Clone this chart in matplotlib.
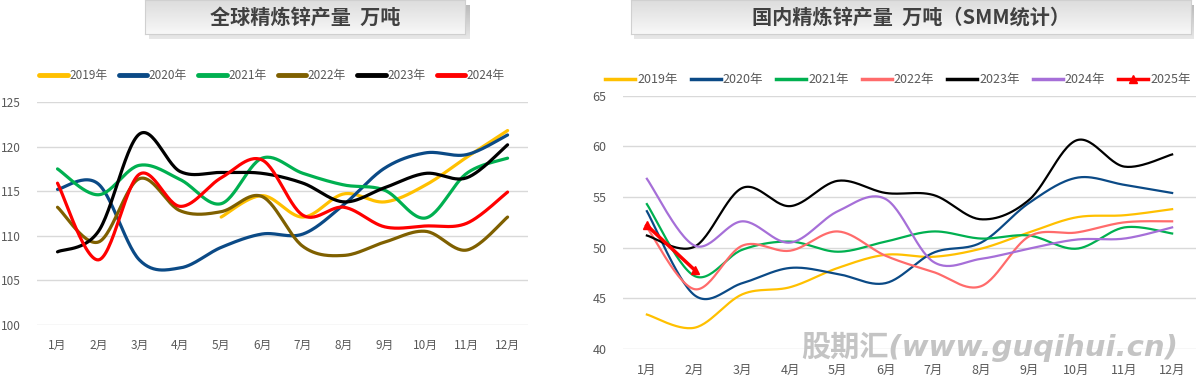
import numpy as np
import matplotlib
matplotlib.use('Agg')
from matplotlib import pyplot as plt

plt.rcParams['font.family'] = ['Noto Sans CJK SC', 'DejaVu Sans']

months = ['%d月' % i for i in range(1, 13)]
nan = np.nan

# 全球精炼锌产量 万吨
g_years = ['2019年', '2020年', '2021年', '2022年', '2023年', '2024年']
g_2019 = [nan, nan, nan, nan, 112.1, 114.5, 112.1, 114.7, 113.8, 115.7, 118.8, 121.8]
g_2020 = [115.2, 115.8, 107.3, 106.4, 108.7, 110.2, 110.2, 113.5, 117.6, 119.3, 119.1, 121.3]
g_2021 = [117.5, 114.6, 117.9, 116.3, 113.6, 118.7, 117.0, 115.7, 115.1, 112.0, 117.0, 118.7]
g_2022 = [113.2, 109.3, 116.4, 112.8, 112.7, 114.4, 108.8, 107.8, 109.3, 110.5, 108.4, 112.1]
g_2023 = [108.2, 110.5, 121.4, 117.2, 117.1, 117.0, 115.9, 113.8, 115.4, 117.0, 116.5, 120.2]
g_2024 = [115.9, 107.3, 116.9, 113.3, 116.5, 118.5, 112.3, 113.2, 111.0, 111.1, 111.4, 114.9]
g_series = [g_2019, g_2020, g_2021, g_2022, g_2023, g_2024]
g_colors = ['#ffc000', '#0b4a86', '#00b050', '#7f6000', '#000000', '#ff0000']

# 国内精炼锌产量 万吨（SMM统计）
d_years = ['2019年', '2020年', '2021年', '2022年', '2023年', '2024年', '2025年']
d_2019 = [43.4, 42.1, 45.4, 46.1, 48.0, 49.3, 49.1, 49.9, 51.5, 53.0, 53.2, 53.8]
d_2020 = [53.6, 45.3, 46.5, 48.0, 47.4, 46.5, 49.5, 50.5, 54.4, 56.9, 56.2, 55.4]
d_2021 = [54.3, 47.2, 49.8, 50.6, 49.6, 50.6, 51.6, 50.9, 51.2, 49.9, 52.0, 51.4]
d_2022 = [52.0, 45.9, 50.2, 49.7, 51.6, 49.2, 47.6, 46.2, 51.1, 51.5, 52.5, 52.6]
d_2023 = [51.2, 50.1, 55.9, 54.1, 56.6, 55.4, 55.2, 52.8, 54.7, 60.6, 58.0, 59.2]
d_2024 = [56.8, 50.2, 52.6, 50.5, 53.6, 54.8, 48.6, 48.9, 49.9, 50.8, 50.9, 52.0]
d_2025 = [52.2, 47.8]
d_series = [d_2019, d_2020, d_2021, d_2022, d_2023, d_2024]
d_colors = ['#ffc000', '#0b4a86', '#00b050', '#ff6b6b', '#000000', '#a66fd8', '#ff0000']


def smooth(xs, ys, n=30):
    # catmull-rom like excel smoothed line
    xs = np.asarray(xs, float)
    ys = np.asarray(ys, float)
    ok = ~np.isnan(ys)
    xs, ys = xs[ok], ys[ok]
    px = np.concatenate([[xs[0]], xs, [xs[-1]]])
    py = np.concatenate([[ys[0]], ys, [ys[-1]]])
    outx, outy = [], []
    t = np.linspace(0, 1, n)
    for i in range(1, len(px) - 2):
        x0, x1, x2, x3 = px[i - 1:i + 3]
        y0, y1, y2, y3 = py[i - 1:i + 3]
        c1x, c1y = x1 + (x2 - x0) / 6, y1 + (y2 - y0) / 6
        c2x, c2y = x2 - (x3 - x1) / 6, y2 - (y3 - y1) / 6
        bx = (1-t)**3*x1 + 3*(1-t)**2*t*c1x + 3*(1-t)*t**2*c2x + t**3*x2
        by = (1-t)**3*y1 + 3*(1-t)**2*t*c1y + 3*(1-t)*t**2*c2y + t**3*y2
        outx.extend(bx)
        outy.extend(by)
    return outx, outy


def title_box(fig, rect, text):
    tax = fig.add_axes([rect[0] + 0.003, rect[1] - 0.012, rect[2], rect[3]])
    tax.axis('off')
    tax.imshow(np.linspace(0.55, 0.85, 50).reshape(-1, 1), cmap='gray', vmin=0, vmax=1,
               aspect='auto', extent=[0, 1, 0, 1], alpha=0.6)
    bax = fig.add_axes(rect)
    bax.set_xticks([])
    bax.set_yticks([])
    for s in bax.spines.values():
        s.set_color('#d0d0d0')
    bax.imshow(np.linspace(0.97, 0.86, 50).reshape(-1, 1)[::-1], cmap='gray', vmin=0, vmax=1,
               aspect='auto', extent=[0, 1, 0, 1])
    bax.text(0.5, 0.5, text, ha='center', va='center', fontsize=14.5, fontweight='bold',
             color='#404040', transform=bax.transAxes)


fig = plt.figure(figsize=(11.99, 3.79), dpi=100)
fig.patch.set_facecolor('white')

x = np.arange(1, 13)
tick_color = '#595959'
grid_color = '#d9d9d9'

# left chart
ax1 = fig.add_axes([0.0309, 0.1425, 0.4095, 0.5884])
for ys, c, lab in zip(g_series, g_colors, g_years):
    sx, sy = smooth(x, ys)
    ax1.plot(sx, sy, color=c, lw=2.3, label=lab, solid_capstyle='round')
ax1.set_xlim(0.5, 12.5)
ax1.set_ylim(100, 125)
ax1.set_yticks(np.arange(100, 126, 5))
ax1.set_xticks(x)
ax1.set_xticklabels(months)
ax1.grid(axis='y', color=grid_color, lw=1)
ax1.set_axisbelow(True)
for s in ax1.spines.values():
    s.set_visible(False)
ax1.tick_params(length=0, colors=tick_color, labelsize=8.5)
ax1.tick_params(axis='y', pad=12)
ax1.tick_params(axis='x', pad=10)
leg1 = ax1.legend(loc='center', bbox_to_anchor=(0.227, 0.80), bbox_transform=fig.transFigure,
                  ncol=6, frameon=False, fontsize=8.5, handlelength=2.4, handletextpad=0.15,
                  columnspacing=0.95, labelcolor=tick_color)
for h in leg1.get_lines():
    h.set_linewidth(3.5)

# right chart
ax2 = fig.add_axes([0.5196, 0.0792, 0.4779, 0.6683])
for ys, c, lab in zip(d_series, d_colors, d_years):
    sx, sy = smooth(x, ys)
    ax2.plot(sx, sy, color=c, lw=1.6, label=lab)
ax2.plot(x[:len(d_2025)], d_2025, color=d_colors[6], lw=2.5, marker='^', ms=6,
         label=d_years[6])
ax2.set_xlim(0.5, 12.5)
ax2.set_ylim(40, 65)
ax2.set_yticks(np.arange(40, 66, 5))
ax2.set_xticks(x)
ax2.set_xticklabels(months)
ax2.grid(axis='y', color=grid_color, lw=1)
ax2.set_axisbelow(True)
for s in ax2.spines.values():
    s.set_visible(False)
ax2.tick_params(length=0, colors=tick_color, labelsize=9)
ax2.tick_params(axis='y', pad=12)
ax2.tick_params(axis='x', pad=11)
leg2 = ax2.legend(loc='center', bbox_to_anchor=(0.749, 0.79), bbox_transform=fig.transFigure,
                  ncol=7, frameon=False, fontsize=9, handlelength=2.4, handletextpad=0.15,
                  columnspacing=1.05, labelcolor=tick_color)
for h in leg2.get_lines():
    h.set_linewidth(2.5)

# watermark
fig.text(0.825, 0.085, '股期汇(www.guqihui.cn)', ha='center', va='center', fontsize=21,
         fontweight='bold', style='italic', color='#c4c4c4',
         family=['DejaVu Sans', 'Noto Sans CJK SC'])

title_box(fig, [0.121, 0.91, 0.267, 0.09], '全球精炼锌产量  万吨')
title_box(fig, [0.526, 0.91, 0.467, 0.09], '国内精炼锌产量  万吨（SMM统计）')

fig.savefig('out.png', dpi=100, facecolor='white')
